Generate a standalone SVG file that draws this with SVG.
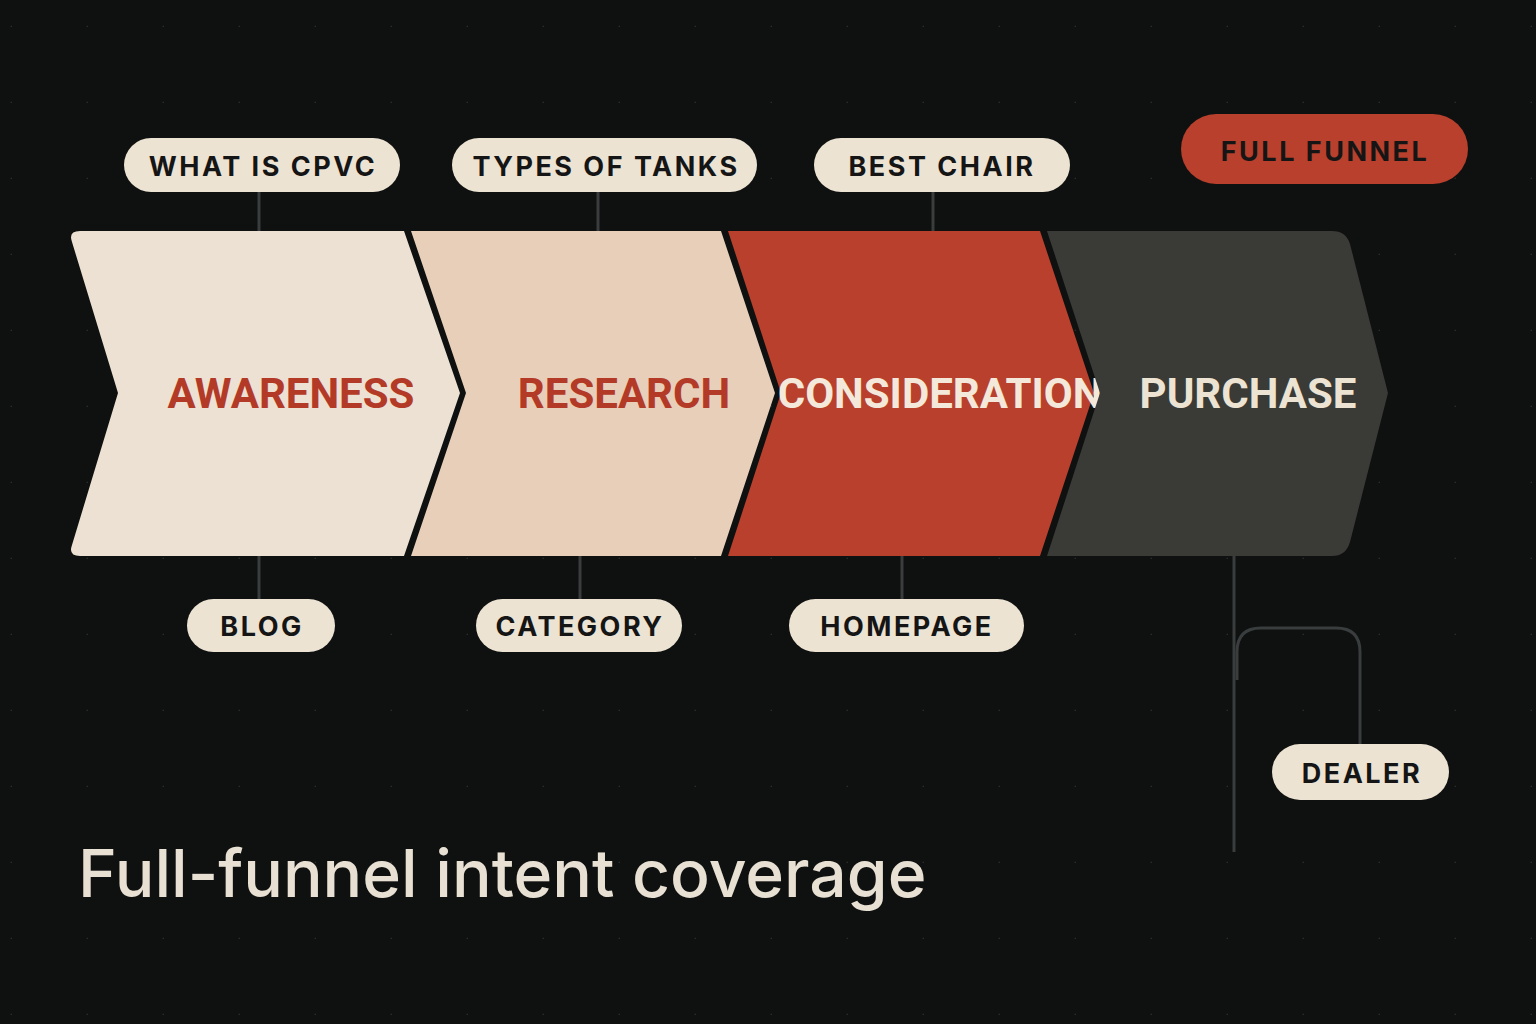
<svg xmlns="http://www.w3.org/2000/svg" width="1536" height="1024" viewBox="0 0 1536 1024">
<defs>
<pattern id="dots" x="12" y="27" width="76" height="76" patternUnits="userSpaceOnUse"><circle cx="76" cy="76" r="1.6" fill="#2a2c2c"/></pattern>
<style>
.pill{fill:#ece3d3}
.pt{font-family:"Inter","Liberation Sans",sans-serif;font-weight:700;font-size:27px;letter-spacing:2.5px;fill:#151515;text-anchor:middle;dominant-baseline:central}
.st{font-family:"Roboto","Liberation Sans",sans-serif;font-weight:700;font-size:42px;text-anchor:middle;dominant-baseline:central}
.ln{stroke:#3a3d3d;stroke-width:3;fill:none}
</style>
</defs>
<rect width="1536" height="1024" fill="#0f1111"/>
<rect width="1536" height="1024" fill="url(#dots)"/>
<g id="connectors">
<line class="ln" x1="259" y1="192" x2="259" y2="232"/>
<line class="ln" x1="598" y1="192" x2="598" y2="232"/>
<line class="ln" x1="933" y1="192" x2="933" y2="232"/>
<line class="ln" x1="259" y1="555" x2="259" y2="599"/>
<line class="ln" x1="580" y1="555" x2="580" y2="599"/>
<line class="ln" x1="902" y1="555" x2="902" y2="599"/>
<line class="ln" x1="1234" y1="555" x2="1234" y2="852"/>
<path class="ln" d="M1237 680 V652 Q1237 628 1261 628 H1336 Q1360 628 1360 652 V744"/>
</g>
<g id="awareness"><path d="M80 231 H404 L460 393 L404 556 H80 Q68 556 72 545 L118 393 L72 242 Q68 231 80 231 Z" fill="#ece1d2"/><text class="st" x="291" y="393" fill="#b43a28">AWARENESS</text></g>
<g id="research"><path d="M411 231 H721 L775 393 L721 556 H411 L466 393 Z" fill="#e8cfb9"/><text class="st" x="624" y="393" fill="#b43a28">RESEARCH</text></g>
<g id="consideration"><path d="M728 231 H1040 L1094 393 L1040 556 H728 L781 393 Z" fill="#b8402c"/><text class="st" x="940" y="393" fill="#f3e8da" font-size="40">CONSIDERATION</text></g>
<g id="purchase"><path d="M1047 231 H1332 Q1346 231 1350 244 L1388 393 L1350 542 Q1346 556 1332 556 H1047 L1100 393 Z" fill="#3a3a37"/><text class="st" x="1248" y="393" fill="#ece3d3">PURCHASE</text></g>
<g id="what-is-cpvc"><rect class="pill" x="124" y="138" width="276" height="54" rx="27"/><text class="pt" x="263" y="166">WHAT IS CPVC</text></g>
<g id="types-of-tanks"><rect class="pill" x="452" y="138" width="305" height="54" rx="27"/><text class="pt" x="606" y="166">TYPES OF TANKS</text></g>
<g id="best-chair"><rect class="pill" x="814" y="138" width="256" height="54" rx="27"/><text class="pt" x="942" y="166">BEST CHAIR</text></g>
<g id="full-funnel"><rect x="1181" y="114" width="287" height="70" rx="35" fill="#b8402c"/><text class="pt" x="1325" y="151" fill="#f3e8da" font-size="30">FULL FUNNEL</text></g>
<g id="blog"><rect class="pill" x="187" y="599" width="148" height="53" rx="26.5"/><text class="pt" x="262" y="626">BLOG</text></g>
<g id="category"><rect class="pill" x="476" y="599" width="206" height="53" rx="26.5"/><text class="pt" x="580" y="626">CATEGORY</text></g>
<g id="homepage"><rect class="pill" x="789" y="599" width="235" height="53" rx="26.5"/><text class="pt" x="907" y="626">HOMEPAGE</text></g>
<g id="dealer"><rect class="pill" x="1272" y="744" width="177" height="56" rx="28"/><text class="pt" x="1362" y="773">DEALER</text></g>
<text x="78" y="897" font-family="Inter,'Liberation Sans',sans-serif" font-size="66" font-weight="500" fill="#e8e0d2">Full-funnel intent coverage</text>
</svg>
